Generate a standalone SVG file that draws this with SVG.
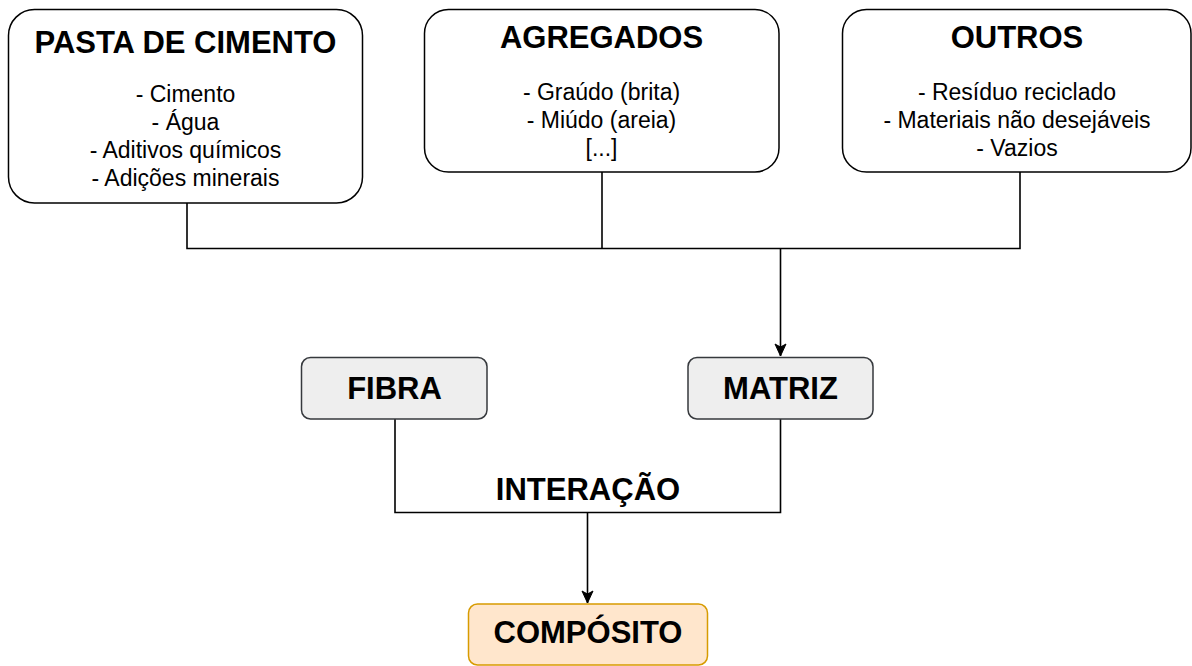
<svg xmlns="http://www.w3.org/2000/svg" width="1192" height="666" viewBox="0 0 1192 666">
<defs>
<style>
.big{fill:#ffffff;stroke:#000000;stroke-width:1.5}
.gray{fill:#eeeeee;stroke:#36393d;stroke-width:1.5}
.orange{fill:#ffe6cc;stroke:#d79b00;stroke-width:1.5}
.t{font-family:"Liberation Sans",Arial,sans-serif;font-size:31px;font-weight:bold;fill:#000;text-anchor:middle}
.b{font-family:"Liberation Sans",Arial,sans-serif;font-size:23px;fill:#000;text-anchor:middle}
.c{fill:none;stroke:#000000;stroke-width:1.6}
</style>
<marker id="arr" markerWidth="14" markerHeight="14" viewBox="0 0 14 14" refX="13" refY="7" orient="auto" markerUnits="userSpaceOnUse">
<path d="M1,1.5 L13,7 L1,12.5 L4,7 Z" fill="#000" stroke="#000" stroke-width="1"/>
</marker>
</defs>
<rect width="1192" height="666" fill="#ffffff"/>
<g id="connectors">
<path class="c" d="M187,203 V248.5 H1020 V172"/>
<path class="c" d="M602,172 V248.5"/>
<path class="c" d="M780.5,248.5 V356" marker-end="url(#arr)"/>
<path class="c" d="M395,419 V512.5 H780.5 V419"/>
<path class="c" d="M587.5,512.5 V603" marker-end="url(#arr)"/>
</g>
<g id="pasta">
<rect class="big" x="8.5" y="9.5" width="354" height="193.5" rx="26" ry="26"/>
<text class="t" x="185.5" y="53">PASTA DE CIMENTO</text>
<text class="b" x="185.5" y="102">- Cimento</text>
<text class="b" x="185.5" y="130">- Água</text>
<text class="b" x="185.5" y="158">- Aditivos químicos</text>
<text class="b" x="185.5" y="186">- Adições minerais</text>
</g>
<g id="agregados">
<rect class="big" x="424.5" y="9.5" width="354.5" height="162.5" rx="24" ry="24"/>
<text class="t" x="601.5" y="48">AGREGADOS</text>
<text class="b" x="601.5" y="100">- Graúdo (brita)</text>
<text class="b" x="601.5" y="128">- Miúdo (areia)</text>
<text class="b" x="601.5" y="156">[...]</text>
</g>
<g id="outros">
<rect class="big" x="842.5" y="9.5" width="348.5" height="162.5" rx="24" ry="24"/>
<text class="t" x="1017" y="48">OUTROS</text>
<text class="b" x="1017" y="100">- Resíduo reciclado</text>
<text class="b" x="1017" y="128">- Materiais não desejáveis</text>
<text class="b" x="1017" y="156">- Vazios</text>
</g>
<g id="fibra">
<rect class="gray" x="301.5" y="357.5" width="185.5" height="61.5" rx="9" ry="9"/>
<text class="t" x="394.5" y="399">FIBRA</text>
</g>
<g id="matriz">
<rect class="gray" x="688" y="357.5" width="185" height="61.5" rx="9" ry="9"/>
<text class="t" x="780.5" y="399">MATRIZ</text>
</g>
<g id="interacao">
<text class="t" x="588" y="500">INTERAÇÃO</text>
</g>
<g id="composito">
<rect class="orange" x="468.5" y="604" width="239" height="61" rx="9" ry="9"/>
<text class="t" x="588" y="643">COMPÓSITO</text>
</g>
</svg>
